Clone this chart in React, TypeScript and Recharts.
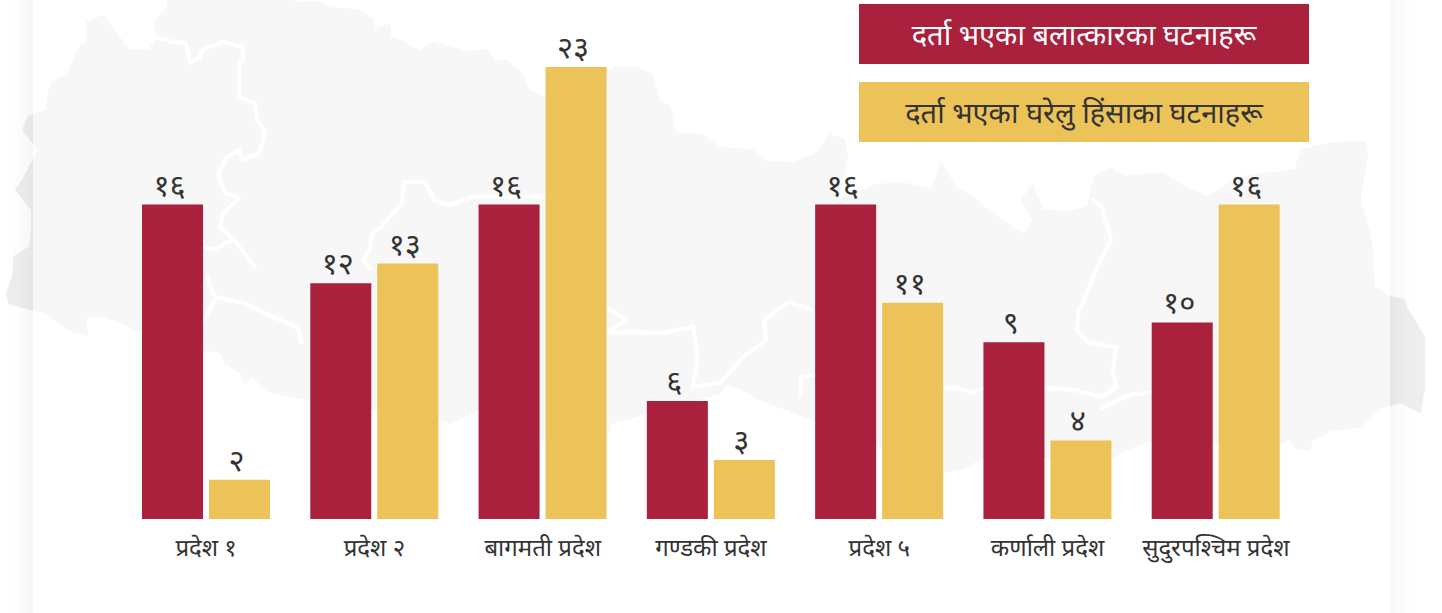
import React from 'react';
import { BarChart, Bar, XAxis, YAxis, LabelList, Legend } from 'recharts';

const provinces = ['प्रदेश १', 'प्रदेश २', 'बागमती प्रदेश', 'गण्डकी प्रदेश', 'प्रदेश ५', 'कर्णाली प्रदेश', 'सुदुरपश्चिम प्रदेश'];
const rapeCases = [16, 12, 16, 6, 16, 9, 10];
const domesticCases = [2, 13, 23, 3, 11, 4, 16];

const rapeName = 'दर्ता भएका बलात्कारका घटनाहरू';
const domesticName = 'दर्ता भएका घरेलु हिंसाका घटनाहरू';

const data = provinces.map((name, i) => ({ name, rape: rapeCases[i], domestic: domesticCases[i] }));

const toNepali = (v: number) => String(v).replace(/\d/g, (d) => '०१२३४५६७८९'[Number(d)]);

const font = '"Noto Sans", sans-serif';

// backdrop only, a rough trace of the map behind the bars
const mapOutline =
  'M28,117 46,110 51,83 67,75 80,47 87,42 87,23 103,16 110,25 129,50 149,50 158,38 154,22 168,7 168,0 292,0 298,3 321,2 328,8 358,10 374,20 374,30 390,25 390,37 404,42 420,52 432,42 464,52 487,50 496,62 505,60 521,72 528,90 545,98 606,72 618,67 638,68 652,75 659,100 670,107 675,133 702,135 720,148 752,150 766,162 794,163 817,153 830,135 844,140 847,157 837,200 877,185 900,183 923,187 932,190 941,163 955,187 973,197 987,210 1001,220 1024,235 1033,220 1022,200 1033,185 1042,210 1070,212 1088,207 1095,177 1111,168 1125,177 1162,173 1185,187 1208,197 1240,177 1295,170 1302,150 1332,143 1365,142 1367,153 1360,200 1371,240 1374,287 1390,297 1404,300 1406,307 1424,337 1424,387 1420,412 1401,402 1378,408 1360,427 1332,430 1312,440 1309,450 1295,448 1291,438 1281,443 1152,440 1125,450 1112,457 982,457 966,467 959,470 943,472 815,420 761,400 743,390 727,383 720,393 611,423 606,440 542,440 478,410 450,423 437,417 309,400 271,392 252,377 243,383 241,373 225,363 220,352 203,350 138,330 115,320 99,315 85,318 87,335 69,330 46,313 9,303 7,293 14,273 14,257 30,247 32,230 32,210 16,190 23,180 39,150 23,130 Z';

const mapBorders = [
  'M158,38 174,42 186,43 190,63 200,57 202,50 223,42 243,47 243,60 239,63 239,97 255,103 257,120 265,132 259,153 243,160 239,150 227,157 218,175 225,193 239,198 223,213 220,227 234,240 255,267',
  'M204,247 216,250 225,243 234,240',
  'M207,277 213,293 216,297 243,303 298,328 301,342',
  'M216,297 204,320',
  'M545,197 473,197 448,205 434,200 425,182 404,182 402,203 381,227 372,233 370,248 363,260 370,268',
  'M606,307 627,320 606,333 634,332 661,333 693,327 698,360 693,387 720,383 743,357 766,340 764,320 789,302 812,310',
  'M815,375 801,377 801,395',
  'M943,388 959,388 971,393 984,388 1045,388 1074,390 1102,397 1116,387 1113,370 1116,347 1088,342 1077,330 1079,310 1084,300 1097,267 1111,240 1102,207 1093,200',
  'M1102,408 1130,395 1152,392',
];

function LegendBoxes() {
  return (
    <div>
      <div style={{ width: 450, height: 60, lineHeight: '60px', background: '#a9213d', color: '#fff', fontSize: 29, textAlign: 'center', marginBottom: 18 }}>{rapeName}</div>
      <div style={{ width: 450, height: 60, lineHeight: '60px', background: '#ecc358', color: '#333', fontSize: 29, textAlign: 'center' }}>{domesticName}</div>
    </div>
  );
}

export default function App() {
  return (
    <div style={{ position: 'absolute', left: 0, top: 0, width: 1442, height: 613, background: '#fff', overflow: 'hidden', fontFamily: font }}>
      <svg width={1442} height={613} style={{ position: 'absolute', left: 0, top: 0 }}>
        <path d={mapOutline} fill="#eeeeee" stroke="#eeeeee" strokeWidth={2} strokeLinejoin="round" />
        {mapBorders.map((d) => (
          <path key={d} d={d} fill="none" stroke="#fff" strokeWidth={4} strokeLinejoin="round" strokeLinecap="round" />
        ))}
      </svg>
      <div style={{ position: 'absolute', left: 33, top: -40, width: 1357, height: 700, background: 'rgba(255,255,255,0.55)', boxShadow: '0 0 30px rgba(0,0,0,0.07)' }} />
      <div style={{ position: 'absolute', left: 0, top: 0 }}>
        <BarChart width={1442} height={613} data={data} margin={{ top: 67, right: 142, bottom: 0, left: 122 }} barSize={61} barGap={6}>
          <XAxis dataKey="name" axisLine={false} tickLine={false} tickMargin={14} interval={0} tick={{ fill: '#333', fontSize: 24 }} height={94} />
          <YAxis hide domain={[0, 23]} />
          <Legend layout="horizontal" verticalAlign="middle" content={<LegendBoxes />} wrapperStyle={{ position: 'absolute', left: 859, top: 4, width: 450, bottom: 'auto' }} />
          <Bar dataKey="rape" name={rapeName} fill="#a9213d" isAnimationActive={false}>
            <LabelList dataKey="rape" position="top" offset={9} dx={-3} formatter={toNepali} fill="#333" fontSize={31} />
          </Bar>
          <Bar dataKey="domestic" name={domesticName} fill="#ecc358" isAnimationActive={false}>
            <LabelList dataKey="domestic" position="top" offset={9} dx={-3} formatter={toNepali} fill="#333" fontSize={31} />
          </Bar>
        </BarChart>
      </div>
    </div>
  );
}
